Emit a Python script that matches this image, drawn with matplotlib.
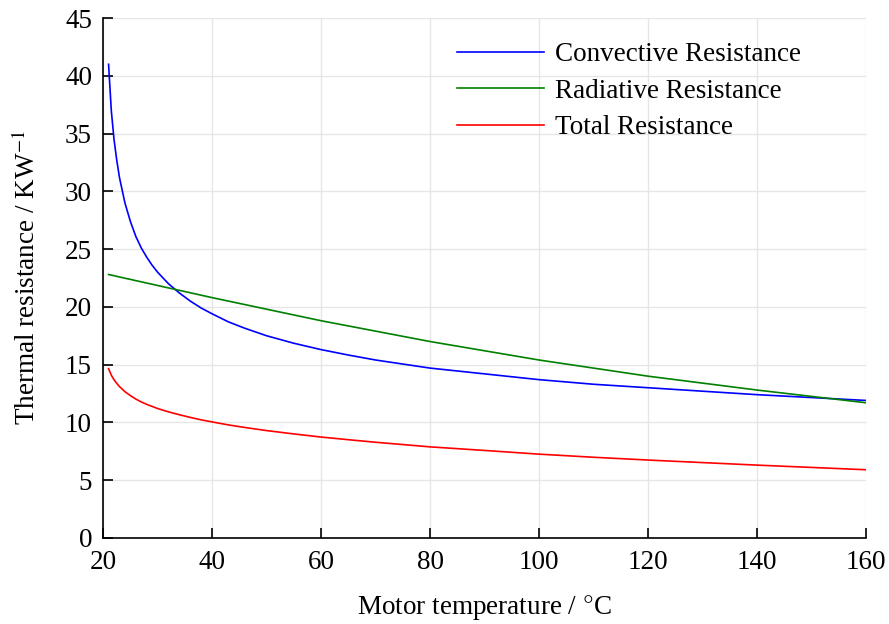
import numpy as np
import matplotlib
matplotlib.use("Agg")
import matplotlib.pyplot as plt

plt.rcParams['font.family'] = ['Liberation Serif', 'DejaVu Serif']
plt.rcParams['mathtext.fontset'] = 'stix'
plt.rcParams['font.size'] = 19.5

# motor temperature (deg C) and resistances (K/W)
temp = [21, 21.5, 22, 22.5, 23, 24, 25, 26, 27, 28, 29, 30, 32, 34, 36, 38,
        40, 43, 46, 50, 55, 60, 65, 70, 75, 80, 90, 100, 110, 120, 130, 140,
        150, 160]
r_conv = [41.0, 37.0, 34.5, 32.7, 31.2, 29.0, 27.4, 26.1, 25.1, 24.3, 23.6,
          23.0, 22.0, 21.2, 20.5, 19.9, 19.4, 18.7, 18.15, 17.5, 16.85, 16.3,
          15.83, 15.4, 15.05, 14.7, 14.2, 13.7, 13.3, 13.0, 12.7, 12.4, 12.15,
          11.9]
r_rad = [22.8, 22.75, 22.7, 22.64, 22.59, 22.48, 22.38, 22.27, 22.17, 22.06,
         21.96, 21.85, 21.64, 21.43, 21.22, 21.01, 20.8, 20.5, 20.2, 19.8,
         19.3, 18.8, 18.35, 17.9, 17.45, 17.0, 16.2, 15.4, 14.7, 14.0, 13.4,
         12.8, 12.25, 11.7]
r_tot = [14.65, 14.09, 13.69, 13.38, 13.10, 12.66, 12.32, 12.02, 11.77, 11.56,
         11.38, 11.20, 10.91, 10.66, 10.43, 10.22, 10.04, 9.78, 9.56, 9.29,
         9.00, 8.73, 8.50, 8.28, 8.08, 7.88, 7.57, 7.25, 6.98, 6.74, 6.52,
         6.30, 6.10, 5.90]

fig = plt.figure(figsize=(8.89, 6.24), dpi=100)
ax = fig.add_axes([0.116, 0.138, 0.858, 0.833])

ax.plot(temp, r_conv, color='blue', lw=1.2, label='Convective Resistance')
ax.plot(temp, r_rad, color='green', lw=1.2, label='Radiative Resistance')
ax.plot(temp, r_tot, color='red', lw=1.2, label='Total Resistance')

ax.set_xlim(20, 160)
ax.set_ylim(0, 45)
ax.set_xticks(np.arange(20, 161, 20))
ax.set_yticks(np.arange(0, 46, 5))
ax.grid(True, color='#e6e6e6', lw=1)
ax.set_axisbelow(True)
ax.spines['top'].set_visible(False)
ax.spines['right'].set_visible(False)
ax.tick_params(direction='in', length=7, width=1.2)
ax.tick_params(axis='x', pad=9)
ax.tick_params(axis='y', pad=8)
for s in ['left', 'bottom']:
    ax.spines[s].set_linewidth(1.2)

ax.set_xlabel('Motor temperature / $\\degree$C', labelpad=13)
ax.set_ylabel('Thermal resistance / KW$^{-1}$', labelpad=17)

ax.legend(loc='upper left', bbox_to_anchor=(0.432, 1.0), frameon=False,
          fontsize=19.5, handlelength=3.2, labelspacing=0.42,
          handletextpad=0.4)

fig.savefig('out.png', dpi=100)
